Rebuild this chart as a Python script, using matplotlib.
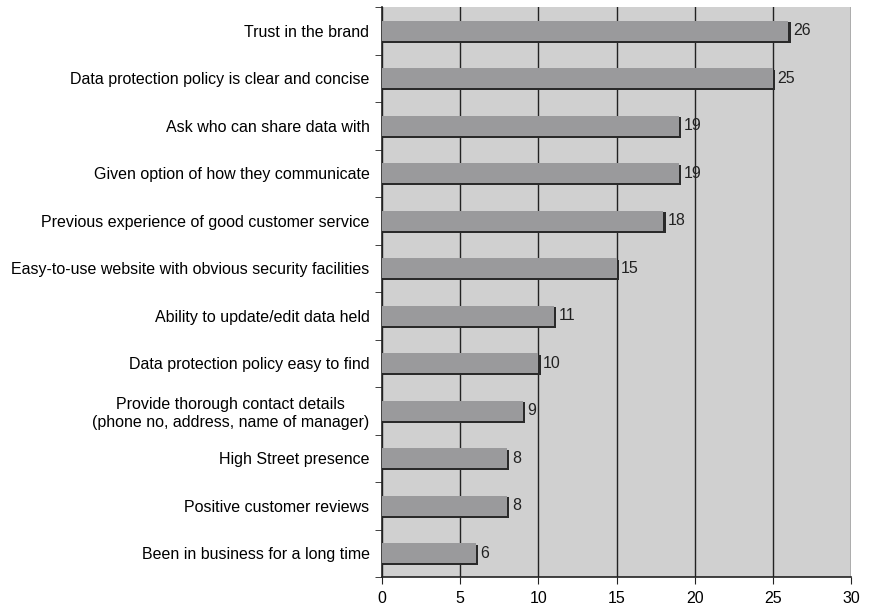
import matplotlib
matplotlib.use("Agg")
import matplotlib.pyplot as plt
import numpy as np

categories = [
    "Trust in the brand",
    "Data protection policy is clear and concise",
    "Ask who can share data with",
    "Given option of how they communicate",
    "Previous experience of good customer service",
    "Easy-to-use website with obvious security facilities",
    "Ability to update/edit data held",
    "Data protection policy easy to find",
    "Provide thorough contact details\n(phone no, address, name of manager)",
    "High Street presence",
    "Positive customer reviews",
    "Been in business for a long time",
]
values = [26, 25, 19, 19, 18, 15, 11, 10, 9, 8, 8, 6]
xticks = [0, 5, 10, 15, 20, 25, 30]

plt.rcParams['font.family'] = ['Liberation Sans', 'DejaVu Sans']
fs = 11.5

fig = plt.figure(figsize=(8.69, 6.07), dpi=100)
ax = fig.add_axes([382/869, 1-577/607, (851-382)/869, (577-7)/607])
ax.set_facecolor('#d0d0d0')

y = np.arange(len(categories))
h = 0.43
# shadow
ax.barh(y + 0.04, [v + 0.15 for v in values], height=h, left=0, color='#2a2a2a', zorder=2)
ax.barh(y, values, height=h, left=0, color='#9a9a9c', zorder=3)
for yi, v in zip(y, values):
    ax.text(v + 0.3, yi, str(v), va='center', ha='left', fontsize=fs, color='#222222', zorder=4)

ax.set_xlim(0, 30)
ax.set_ylim(len(categories) - 0.5, -0.5)
ax.set_xticks(xticks)
ax.set_xticklabels([str(t) for t in xticks], fontsize=fs)
ax.set_yticks(y)
ax.set_yticklabels(categories, fontsize=fs)
ax.set_yticks(np.arange(-0.5, len(categories), 1), minor=True)
ax.tick_params(axis='y', which='major', length=0, pad=9)
ax.tick_params(axis='y', which='minor', length=5, direction='out', color='#222222')
ax.tick_params(axis='x', length=5, direction='out', color='#222222', pad=5)
ax.xaxis.grid(True, color='#222222', linewidth=1.0, zorder=1)
ax.set_axisbelow(True)
for s in ['top', 'right']:
    ax.spines[s].set_visible(False)
ax.spines['left'].set_color('#222222')
ax.spines['bottom'].set_color('#222222')
ax.spines['left'].set_linewidth(1.2)
ax.spines['bottom'].set_linewidth(1.2)
for lbl in ax.get_yticklabels():
    lbl.set_multialignment('center')

fig.savefig('out.png', dpi=100)
